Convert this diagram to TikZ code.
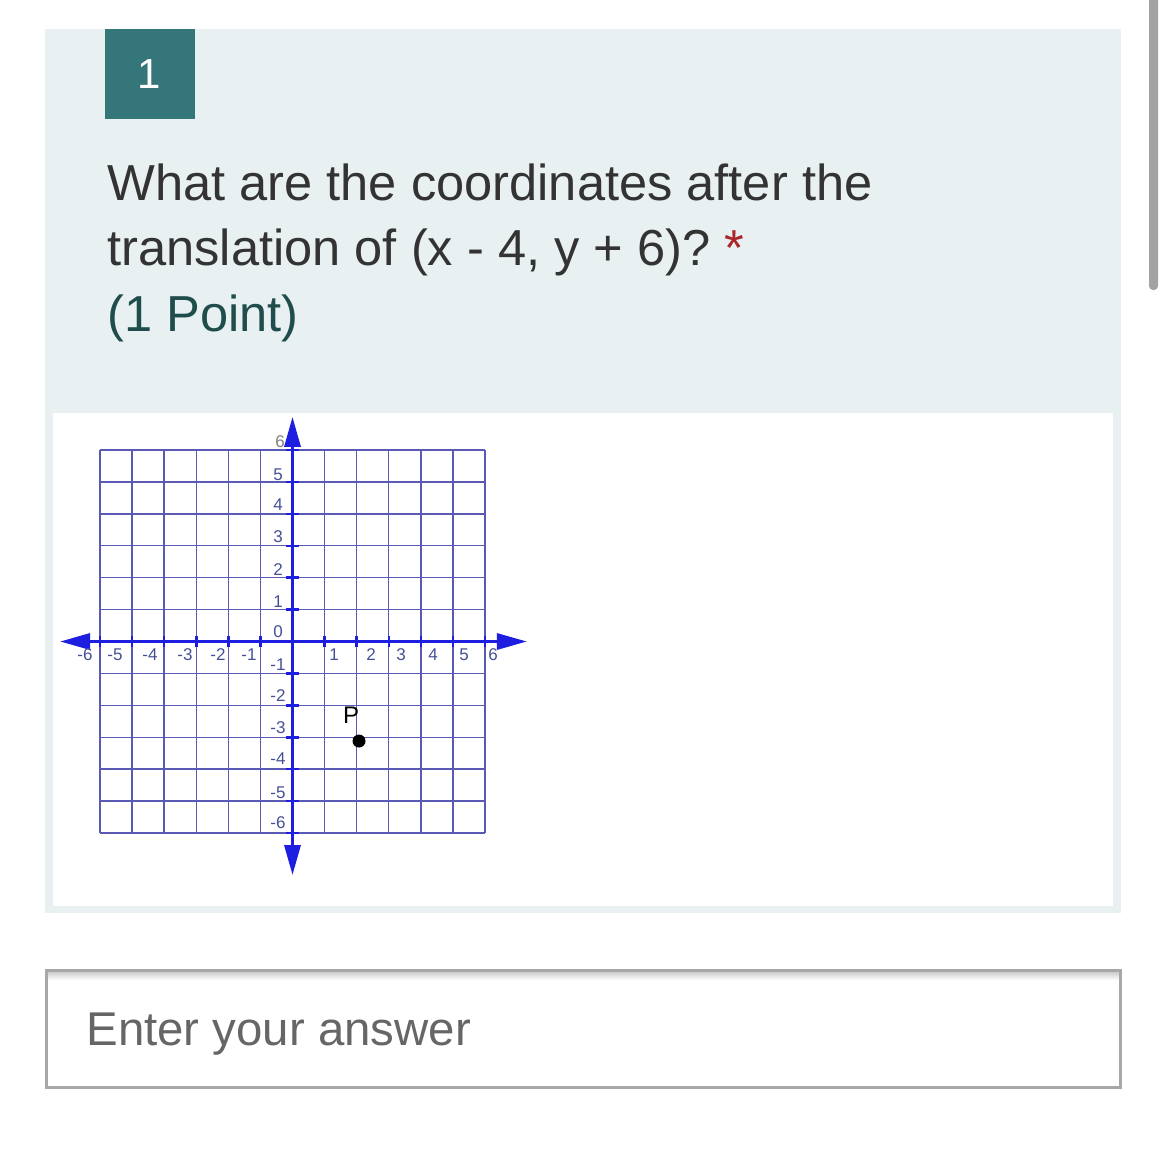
\documentclass[tikz,border=0pt]{standalone}
\usepackage{fontspec}
\setmainfont{Liberation Sans}
\usetikzlibrary{arrows.meta}
\definecolor{panelbg}{RGB}{233,240,242}
\definecolor{qteal}{RGB}{52,118,122}
\definecolor{qtext}{RGB}{51,51,51}
\definecolor{qpoint}{RGB}{30,77,75}
\definecolor{qred}{RGB}{168,38,44}
\definecolor{boxgray}{RGB}{168,168,168}
\definecolor{anscol}{RGB}{102,102,102}
\definecolor{scrollcol}{RGB}{163,163,163}
\definecolor{gridcol}{RGB}{90,90,180}
\definecolor{axiscol}{RGB}{30,30,225}
\definecolor{labcol}{RGB}{70,80,150}
\tikzset{
  numbox/.style={fill=qteal, text=white, minimum width=45pt, minimum height=45pt, inner sep=0pt, font=\fontsize{21}{21}\selectfont},
  qline/.style={anchor=base west, inner sep=0pt, text=qtext, font=\fontsize{25.3}{25.3}\selectfont},
  ansline/.style={anchor=base west, inner sep=0pt, text=anscol, font=\fontsize{23.7}{23.7}\selectfont},
  gridline/.style={draw=gridcol, line width=0.65pt},
  axisline/.style={draw=axiscol, line width=1.65pt, {Triangle[length=15pt,width=8pt]}-{Triangle[length=15pt,width=8pt]}},
  tickmark/.style={draw=axiscol, line width=1.3pt},
  axlab/.style={inner sep=0pt, text=labcol, font=\fontsize{8.5}{8.5}\selectfont},
}
\begin{document}
\begin{tikzpicture}[x=0.5pt,y=-0.5pt]
\useasboundingbox (0,0) rectangle (1167,1168);
\fill[white] (0,0) rectangle (1167,1168);
% question panel
\fill[panelbg] (45,29) rectangle (1121,913);
\node[numbox] (num) at (149.5,74) {1};
\node[qline] (q1) at (107,200) {What are the coordinates after the};
\node[qline] (q2) at (107,265) {translation of (x - 4, y + 6)?\hspace{7pt}\textcolor{qred}{*}};
\node[qline, text=qpoint] (q3) at (107,331) {(1 Point)};
% picture panel
\fill[white] (53,413) rectangle (1113,906);
\coordinate (O) at (292.5,641.5);
\begin{scope}[shift={(O)}, x=16.05pt, y=15.95pt]
  \foreach \i in {-6,...,6} {
    \draw[gridline] (\i,-6) -- (\i,6);
    \draw[gridline] (-6,\i) -- (6,\i);
  }
  \coordinate (xl) at (-7.24,0);
  \coordinate (xr) at (7.3,0);
  \coordinate (yt) at (0,7.04);
  \coordinate (yb) at (0,-7.32);
  \draw[axisline] (xl) -- (xr);
  \draw[axisline] (yb) -- (yt);
  \foreach \i in {-6,...,-1,1,2,3,4,5,6} {
    \draw[tickmark] (\i,-0.16) -- (\i,0.16);
    \draw[tickmark] (-0.2,\i) -- (0.2,\i);
  }
\end{scope}
% axis labels
\foreach \t/\px in {-6/85,-5/115,-4/150,-3/185,-2/218,-1/249,1/334,2/371,3/401,4/433,5/464,6/493} {
  \node[axlab] (xlab\t) at (\px,655) {\t};
}
\foreach \t/\py in {5/475,4/505,3/537,2/570,1/602,0/632,-1/665,-2/696,-3/728,-4/759,-5/793,-6/823} {
  \node[axlab] (ylab\t) at (278,\py) {\t};
}
\node[axlab, text=gray] (ylab6) at (280,442) {6};
% point P
\node[circle, fill=black, minimum size=6.5pt, inner sep=0pt] (P) at (359,741) {};
\node[inner sep=0pt, font=\fontsize{12}{12}\selectfont] (Plab) at (351,715) {P};
% answer box
\shade[top color=boxgray!70, bottom color=white] (46,970) rectangle (1120,980);
\draw[boxgray, line width=1.5pt] (46,970) rectangle (1120,1087);
\node[ansline] (ans) at (86,1045) {Enter your answer};
% scrollbar
\fill[scrollcol, rounded corners=2pt] (1149,-6) rectangle (1158,290);
\end{tikzpicture}
\end{document}
